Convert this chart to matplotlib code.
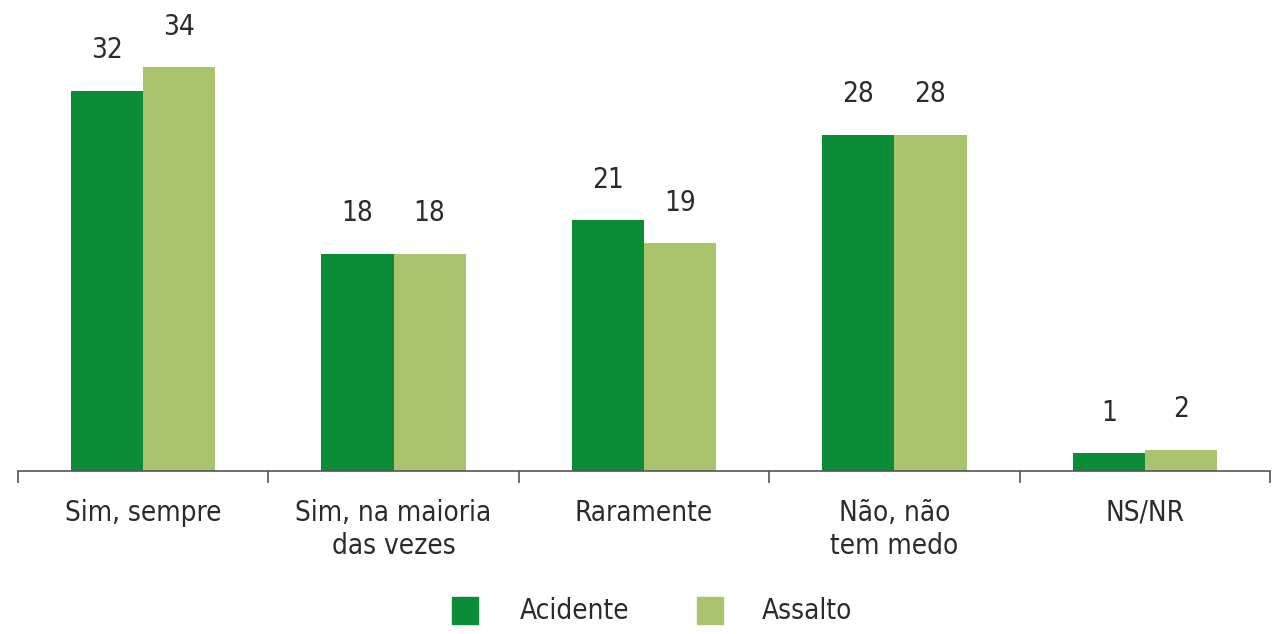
import matplotlib
matplotlib.use("Agg")
import matplotlib.pyplot as plt
from matplotlib import font_manager as fm
from matplotlib.patches import Rectangle

categories = ["Sim, sempre", "Sim, na maioria\ndas vezes", "Raramente", "Não, não\ntem medo", "NS/NR"]
acidente = [32, 18.3, 21.1, 28.3, 1.5]
assalto = [34, 18.3, 19.2, 28.3, 1.8]
acidente_labels = ["32", "18", "21", "28", "1"]
assalto_labels = ["34", "18", "19", "28", "2"]
series_names = ["Acidente", "Assalto"]

names = {f.name for f in fm.fontManager.ttflist}
family = "Liberation Sans Narrow" if "Liberation Sans Narrow" in names else "DejaVu Sans"
stretch = "normal"
if family == "DejaVu Sans":
    cond = [f for f in fm.fontManager.ttflist if f.name == "DejaVu Sans" and f.stretch == "condensed"]
    if cond:
        stretch = "condensed"
plt.rcParams["font.family"] = [family, "DejaVu Sans"]
plt.rcParams["font.stretch"] = stretch

DARK = "#0b8c37"
LIGHT = "#a9c46c"
TEXT = "#2b2b2b"
FS = 20

W, H = 1278, 634
fig = plt.figure(figsize=(W / 100, H / 100), dpi=100)
ax = fig.add_axes([18 / W, 1 - 471 / H, (1270 - 18) / W, 471 / H])

n = len(categories)
x = list(range(n))
bw = 0.288
ax.bar([i - bw / 2 for i in x], acidente, width=bw, color=DARK, zorder=2)
ax.bar([i + bw / 2 for i in x], assalto, width=bw, color=LIGHT, zorder=2)

ax.set_xlim(-0.5, n - 0.5)
ax.set_ylim(0, 471 / 11.88)

for i in x:
    ax.annotate(acidente_labels[i], (i - bw / 2, acidente[i]), xytext=(0, 19), textcoords="offset points",
                ha="center", va="bottom", fontsize=FS, color=TEXT)
    ax.annotate(assalto_labels[i], (i + bw / 2, assalto[i]), xytext=(0, 19), textcoords="offset points",
                ha="center", va="bottom", fontsize=FS, color=TEXT)
    ax.annotate(categories[i], (i, 0), xycoords=("data", "axes fraction"), xytext=(0, -20),
                textcoords="offset points", ha="center", va="top", fontsize=FS, color=TEXT,
                linespacing=1.25)

for s in ["top", "right", "left"]:
    ax.spines[s].set_visible(False)
ax.spines["bottom"].set_color("#555555")
ax.spines["bottom"].set_linewidth(1.2)
ax.set_yticks([])
ax.set_xticks([i - 0.5 for i in range(n + 1)])
ax.set_xticklabels([])
ax.tick_params(axis="x", direction="out", length=8.5, width=1.2, color="#555555")

# legend
for (xs, xt, col, name) in [(452, 520, DARK, series_names[0]), (697, 762, LIGHT, series_names[1])]:
    fig.patches.append(Rectangle((xs / W, 1 - 624 / H), 26 / W, 27 / H, transform=fig.transFigure,
                                 color=col, figure=fig))
    fig.text(xt / W, 1 - 611 / H, name, ha="left", va="center", fontsize=FS, color=TEXT)

fig.savefig("out.png", dpi=100, facecolor="white")
